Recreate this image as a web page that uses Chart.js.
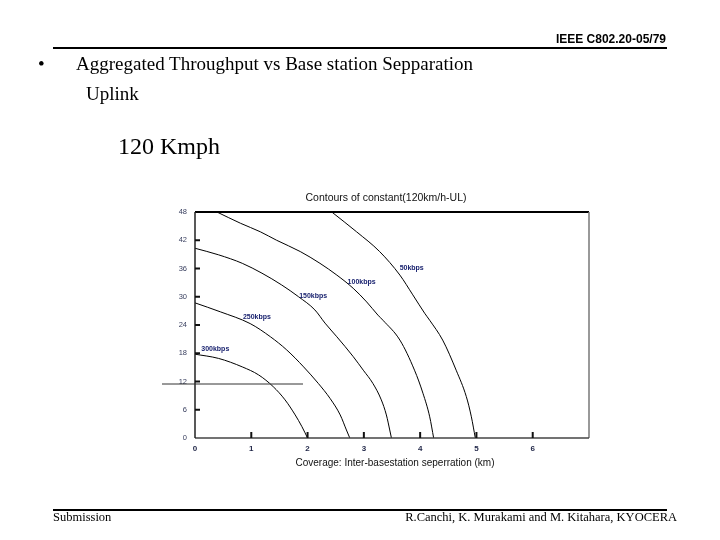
<!DOCTYPE html>
<html>
<head>
<meta charset="utf-8">
<script src="https://cdn.jsdelivr.net/npm/chart.js@4.4.1/dist/chart.umd.min.js"></script>
<style>
body { margin: 0; width: 720px; height: 540px; position: relative; background: #fff; overflow: hidden; }
#chart { position: absolute; left: 0; top: 0; }
.t { position: absolute; white-space: nowrap; font-family: "Liberation Serif", "Times New Roman", serif; color: #000; }
.rule { position: absolute; left: 53px; width: 614px; height: 2px; background: #000; }
</style>
</head>
<body>
<canvas id="chart" width="720" height="540"></canvas>

<div class="t" style="right:54px; top:32px; font: bold 12px 'Liberation Sans', Arial, sans-serif;">IEEE C802.20-05/79</div>
<div class="rule" style="top:47px;"></div>
<div class="t" style="left:38px; top:53px; font-size:19px;">&bull;</div>
<div class="t" style="left:76px; top:53px; font-size:19px;">Aggregated Throughput vs Base station Sepparation</div>
<div class="t" style="left:86px; top:83px; font-size:19px;">Uplink</div>
<div class="t" style="left:118px; top:133px; font-size:24px;">120 Kmph</div>

<div class="rule" style="top:509px;"></div>
<div class="t" style="left:53px; top:510px; font-size:12.5px;">Submission</div>
<div class="t" style="right:43px; top:510px; font-size:12.5px;">R.Canchi, K. Murakami and M. Kitahara, KYOCERA</div>

<script>
// contour curves: separation (km) vs y value
const sep300 = [0, 0.42, 0.84, 1.13, 1.39, 1.6, 1.78, 1.9, 2.0];
const val300 = [17.8, 16.9, 15.1, 13.4, 10.9, 8.1, 4.9, 2.4, 0];

const sep250 = [0, 0.45, 0.98, 1.34, 1.63, 1.93, 2.19, 2.4, 2.58, 2.69, 2.75];
const val250 = [28.7, 26.8, 24.3, 21.5, 18.7, 15.1, 11.6, 8.4, 4.9, 1.7, 0];

const sep150 = [0, 0.42, 0.84, 1.19, 1.54, 1.84, 2.13, 2.31, 2.52, 2.81, 2.99, 3.16, 3.31, 3.4, 3.46, 3.49];
const val150 = [40.3, 38.9, 37.1, 35, 32.5, 30, 27.2, 24.4, 21.5, 17.3, 14.4, 11.6, 8.1, 4.9, 1.7, 0];

const sep100 = [0.39, 0.81, 1.16, 1.45, 1.87, 2.22, 2.52, 2.81, 3.05, 3.25, 3.34, 3.64, 3.9, 4.05, 4.17, 4.24];
const val100 = [48, 45.6, 43.8, 42, 39.6, 37.1, 34.6, 31.8, 28.9, 26.1, 25, 20.8, 14.4, 9.5, 4.5, 0];

const sep50 = [2.43, 2.87, 3.28, 3.64, 3.87, 4.08, 4.17, 4.4, 4.64, 4.82, 4.91, 4.98];
const val50 = [48, 43.8, 39.6, 34.6, 30.4, 26.5, 25, 20.8, 14.4, 8.8, 4.5, 0];

const curveNames = ['300kbps', '250kbps', '150kbps', '100kbps', '50kbps'];
const curveSeps = [sep300, sep250, sep150, sep100, sep50];
const curveVals = [val300, val250, val150, val100, val50];

// where each curve label sits, in data units
const labelSep = [0.36, 1.1, 2.1, 2.96, 3.85];
const labelVal = [18.9, 25.7, 30.1, 33.1, 36.1];

const xTicks = [0, 1, 2, 3, 4, 5, 6];
const yTicks = [0, 6, 12, 18, 24, 30, 36, 42, 48];

const chartTitle = 'Contours of constant(120km/h-UL)';
const xTitle = 'Coverage: Inter-basestation seperration (km)';

const datasets = curveNames.map((name, i) => ({
    label: name,
    data: curveSeps[i].map((s, j) => ({ x: s, y: curveVals[i][j] })),
    showLine: true,
    borderColor: '#000',
    borderWidth: 1,
    pointRadius: 0,
    cubicInterpolationMode: 'monotone'
}));

const decor = {
    id: 'decor',
    afterDraw(chart) {
        const c = chart.ctx;
        const a = chart.chartArea;
        const xs = chart.scales.x;
        const ys = chart.scales.y;
        c.save();

        // frame
        c.lineCap = 'butt';
        c.strokeStyle = '#000'; c.lineWidth = 2;
        c.beginPath(); c.moveTo(a.left, a.top); c.lineTo(a.right, a.top); c.stroke();
        c.strokeStyle = '#777'; c.lineWidth = 1.5;
        c.beginPath(); c.moveTo(a.right, a.top); c.lineTo(a.right, a.bottom); c.stroke();
        c.strokeStyle = '#444'; c.lineWidth = 1.5;
        c.beginPath(); c.moveTo(a.left, a.bottom); c.lineTo(a.right, a.bottom); c.stroke();
        c.strokeStyle = '#222'; c.lineWidth = 1.5;
        c.beginPath(); c.moveTo(a.left, a.top); c.lineTo(a.left, a.bottom); c.stroke();

        // inner tick marks
        c.strokeStyle = '#111'; c.lineWidth = 2;
        xTicks.forEach(v => {
            if (v === 0) return;
            const px = xs.getPixelForValue(v);
            c.beginPath(); c.moveTo(px, a.bottom); c.lineTo(px, a.bottom - 6); c.stroke();
        });
        yTicks.forEach(v => {
            if (v === 0 || v === 48) return;
            const py = ys.getPixelForValue(v);
            c.beginPath(); c.moveTo(a.left, py); c.lineTo(a.left + 5, py); c.stroke();
        });

        // odd stray line left of the axis
        c.strokeStyle = '#333'; c.lineWidth = 1;
        c.beginPath(); c.moveTo(162, 384); c.lineTo(303, 384); c.stroke();

        // curve labels
        c.fillStyle = '#1b2470';
        c.font = 'bold 7px "Liberation Sans", Arial, sans-serif';
        c.textAlign = 'center'; c.textBaseline = 'middle';
        curveNames.forEach((n, i) => {
            c.fillText(n, xs.getPixelForValue(labelSep[i]), ys.getPixelForValue(labelVal[i]));
        });

        // titles
        c.fillStyle = '#111';
        c.font = '10.5px "Liberation Sans", Arial, sans-serif';
        c.fillText(chartTitle, 386, 198);
        c.font = '10px "Liberation Sans", Arial, sans-serif';
        c.fillText(xTitle, 395, 463);
        c.restore();
    }
};

new Chart(document.getElementById('chart'), {
    type: 'scatter',
    data: { datasets: datasets },
    options: {
        responsive: false,
        animation: false,
        layout: { padding: { left: 0, top: 212, right: 131, bottom: 0 } },
        plugins: { legend: { display: false }, title: { display: false }, tooltip: { enabled: false } },
        scales: {
            x: {
                type: 'linear', min: 0, max: 7,
                afterBuildTicks: s => { s.ticks = xTicks.map(v => ({ value: v })); },
                afterFit: s => { s.height = 102; },
                grid: { display: false },
                border: { display: false },
                ticks: {
                    padding: -2,
                    color: '#23294a',
                    font: { size: 8, weight: 'bold', family: '"Liberation Sans", Arial, sans-serif' }
                }
            },
            y: {
                type: 'linear', min: 0, max: 48,
                afterBuildTicks: s => { s.ticks = yTicks.map(v => ({ value: v })); },
                afterFit: s => { s.width = 195; },
                grid: { display: false },
                border: { display: false },
                ticks: {
                    padding: 0,
                    color: '#3a4060',
                    font: { size: 7.5, family: '"Liberation Sans", Arial, sans-serif' }
                }
            }
        }
    },
    plugins: [decor]
});
</script>
</body>
</html>
